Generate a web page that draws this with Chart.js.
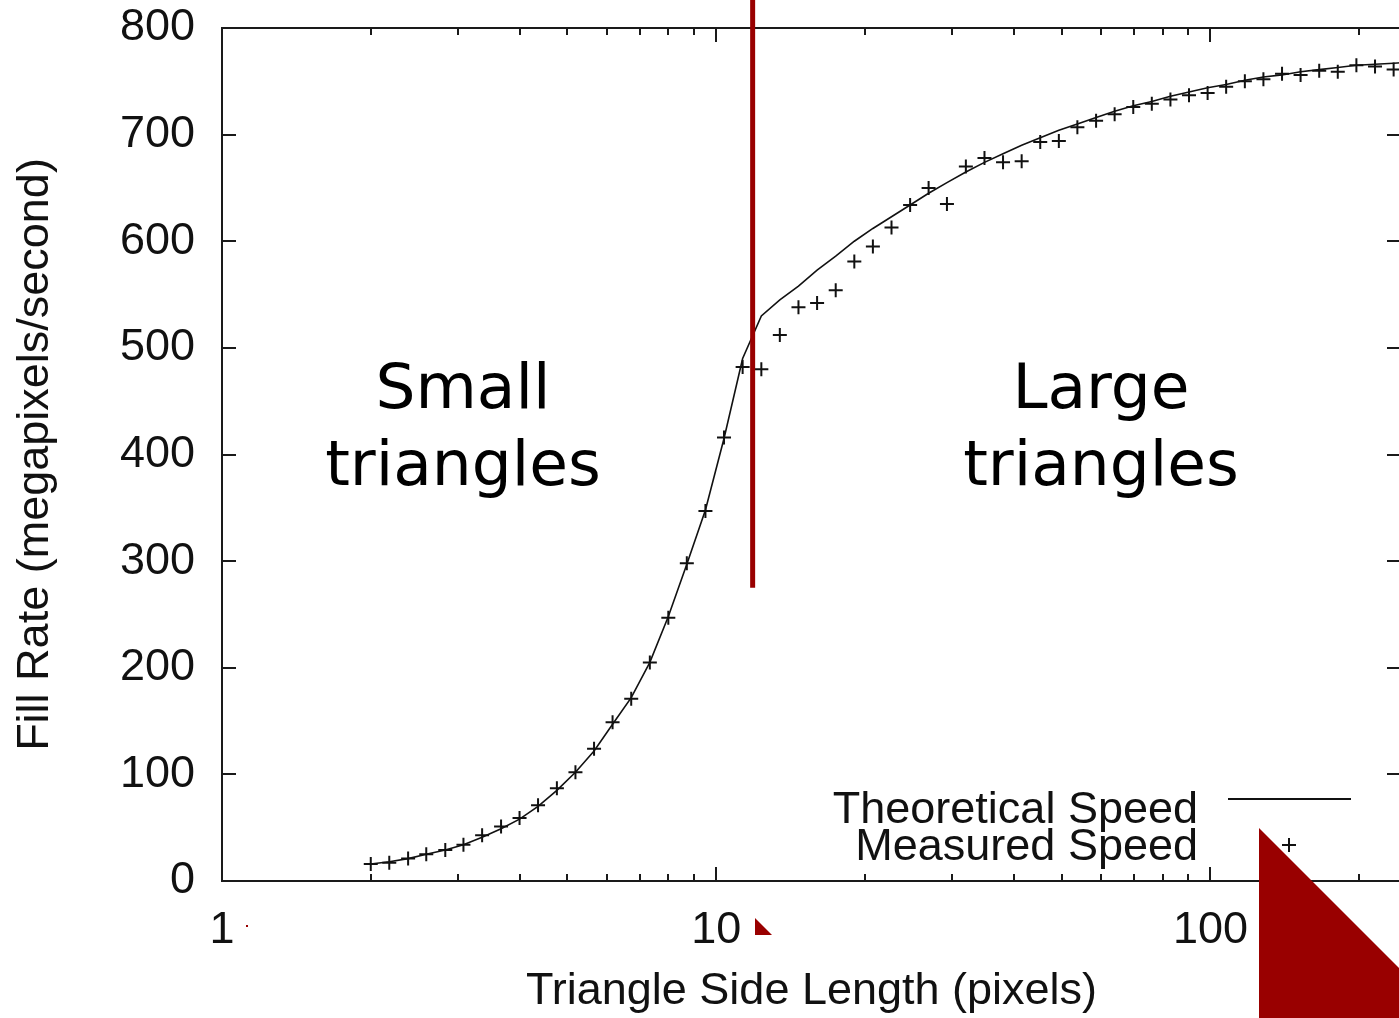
<!DOCTYPE html>
<html>
<head>
<meta charset="utf-8">
<title>Fill rate vs triangle size</title>
<script src="https://cdn.jsdelivr.net/npm/chart.js@4.4.1/dist/chart.umd.min.js"></script>
<style>
  html, body { margin: 0; padding: 0; background: #fff; overflow: hidden; }
  #wrap { position: relative; width: 1410px; height: 1018px; }
</style>
</head>
<body>
<div id="wrap"><canvas id="myChart" width="1410" height="1018"></canvas></div>
<script>
// triangle side length (pixels), log spaced
const sideLength = [2, 2.18, 2.38, 2.59, 2.83, 3.08, 3.36, 3.67, 4, 4.36,
  4.76, 5.19, 5.66, 6.17, 6.73, 7.34, 8, 8.72, 9.51, 10.37,
  11.31, 12.34, 13.45, 14.67, 16, 17.45, 19.03, 20.75, 22.63, 24.68,
  26.9, 29.3, 32, 34.9, 38.05, 41.5, 45.25, 49.35, 53.8, 58.7,
  64, 69.8, 76.1, 83, 90.5, 98.7, 107.6, 117.4, 128, 139.6,
  152.2, 166, 181, 197.4, 215.3, 234.8, 256];

// fill rate, megapixels/second
const theoretical = [16, 18, 21, 25, 29, 34, 41, 49, 58, 70,
  85, 102, 122, 147, 172, 205, 248, 297, 348, 415,
  490, 530, 545, 558, 573, 586, 600, 612, 623, 634,
  645, 655, 665, 674, 682, 690, 697, 704, 710, 716,
  722, 727, 731, 736, 740, 744, 747, 751, 754, 756,
  759, 761, 763, 765, 766, 767, 768];

const measured = [16, 17, 21, 25, 29, 34, 43, 51, 59, 71,
  87, 102, 124, 149, 171, 205, 247, 298, 347, 416,
  482, 480, 512, 538, 542, 554, 581, 595, 613, 634,
  650, 635, 670, 678, 674, 675, 693, 694, 707, 713,
  719, 726, 729, 733, 737, 739, 745, 750, 752, 757,
  756, 760, 759, 765, 764, 761, null];

const yTicks = [0, 100, 200, 300, 400, 500, 600, 700, 800];
const xLabels = [1, 10, 100];

// where small triangles end and large ones begin
const boundaryX = 11.85;
const boundaryBottomY = 275;

const gpFont = "'Liberation Sans', Arial, Helvetica, sans-serif";
const slideFont = "'DejaVu Sans', Verdana, sans-serif";
const ink = '#111';
const red = '#990000';

function isLogTick(v) {
  const e = Math.pow(10, Math.floor(Math.log10(v) + 1e-9));
  const m = v / e;
  return Math.abs(m - Math.round(m)) < 1e-6;
}

// gnuplot style frame with inward ticks on all four sides
const frameTicks = {
  id: 'frameTicks',
  afterDatasetsDraw(chart) {
    const { ctx, chartArea: a, scales: { x, y } } = chart;
    ctx.save();
    ctx.strokeStyle = '#1a1a1a';
    ctx.lineWidth = 2;
    ctx.strokeRect(a.left, a.top, a.right - a.left, a.bottom - a.top);
    ctx.beginPath();
    x.ticks.forEach(t => {
      if (!isLogTick(t.value)) return;
      const px = Math.round(x.getPixelForValue(t.value));
      if (px <= a.left + 1 || px >= a.right - 1) return;
      const major = Math.abs(Math.log10(t.value) - Math.round(Math.log10(t.value))) < 1e-6;
      const len = major ? 14 : 7;
      ctx.moveTo(px, a.bottom); ctx.lineTo(px, a.bottom - len);
      ctx.moveTo(px, a.top); ctx.lineTo(px, a.top + len);
    });
    y.ticks.forEach(t => {
      const py = Math.round(y.getPixelForValue(t.value));
      if (py <= a.top + 1 || py >= a.bottom - 1) return;
      ctx.moveTo(a.left, py); ctx.lineTo(a.left + 14, py);
      ctx.moveTo(a.right, py); ctx.lineTo(a.right - 14, py);
    });
    ctx.stroke();
    ctx.restore();
  }
};

// key in the lower right, text right aligned then sample
const gpKey = {
  id: 'gpKey',
  afterDraw(chart) {
    const { ctx } = chart;
    const ds = chart.data.datasets;
    ctx.save();
    ctx.font = '45px ' + gpFont;
    ctx.fillStyle = ink;
    ctx.textAlign = 'right';
    ctx.textBaseline = 'alphabetic';
    ctx.fillText(ds[0].label, 1198, 823);
    ctx.fillText(ds[1].label, 1198, 860);
    ctx.strokeStyle = ink;
    ctx.lineWidth = 2;
    ctx.beginPath();
    ctx.moveTo(1228, 799); ctx.lineTo(1351, 799);
    ctx.moveTo(1282, 845); ctx.lineTo(1296, 845);
    ctx.moveTo(1289, 838); ctx.lineTo(1289, 852);
    ctx.stroke();
    ctx.restore();
  }
};

// slide overlay: labels, boundary line, red corner shapes
const slideOverlay = {
  id: 'slideOverlay',
  afterDraw(chart) {
    const { ctx, scales: { x, y } } = chart;
    ctx.save();
    ctx.font = '63px ' + slideFont;
    ctx.fillStyle = '#000';
    ctx.textAlign = 'center';
    ctx.fillText('Small', 463, 408);
    ctx.fillText('triangles', 463, 485);
    ctx.fillText('Large', 1101, 408);
    ctx.fillText('triangles', 1101, 485);

    const bx = x.getPixelForValue(boundaryX);
    ctx.strokeStyle = red;
    ctx.lineWidth = 5;
    ctx.beginPath();
    ctx.moveTo(bx, 0);
    ctx.lineTo(bx, y.getPixelForValue(boundaryBottomY));
    ctx.stroke();

    ctx.fillStyle = red;
    ctx.beginPath();
    ctx.moveTo(1259, 828); ctx.lineTo(1399, 968); ctx.lineTo(1399, 1018); ctx.lineTo(1259, 1018);
    ctx.closePath();
    ctx.fill();
    ctx.beginPath();
    ctx.moveTo(755, 918); ctx.lineTo(772, 935); ctx.lineTo(755, 935);
    ctx.closePath();
    ctx.fill();
    ctx.fillRect(246, 925, 2, 2);
    ctx.restore();
  }
};

const ctx = document.getElementById('myChart');

new Chart(ctx, {
  type: 'scatter',
  data: {
    datasets: [{
      label: 'Theoretical Speed',
      data: sideLength.map((s, i) => ({ x: s, y: theoretical[i] })),
      showLine: true,
      borderColor: ink,
      borderWidth: 1.6,
      pointRadius: 0,
      tension: 0
    }, {
      label: 'Measured Speed',
      data: sideLength.map((s, i) => ({ x: s, y: measured[i] })),
      showLine: false,
      pointStyle: 'cross',
      pointRadius: 7,
      borderColor: ink,
      borderWidth: 2
    }]
  },
  options: {
    responsive: false,
    animation: false,
    devicePixelRatio: 1,
    events: [],
    layout: { padding: { top: 28, right: 0, left: 0, bottom: 0 } },
    plugins: {
      legend: { display: false },
      tooltip: { enabled: false }
    },
    scales: {
      x: {
        type: 'logarithmic',
        min: 1,
        max: 243,
        grid: { display: false, drawTicks: false },
        border: { display: false },
        ticks: {
          autoSkip: false,
          maxRotation: 0,
          padding: 23,
          color: ink,
          font: { family: gpFont, size: 45 },
          callback: v => xLabels.find(l => Math.abs(l - v) < 1e-6) !== undefined ? String(Math.round(v)) : ''
        },
        title: {
          display: true,
          text: 'Triangle Side Length (pixels)',
          color: ink,
          font: { family: gpFont, size: 45, lineHeight: 1 },
          padding: { top: 0, bottom: 4 }
        },
        afterFit: s => { s.height = 137; s.paddingLeft = 0; s.paddingRight = 0; }
      },
      y: {
        min: 0,
        max: 800,
        afterBuildTicks: s => { s.ticks = yTicks.map(v => ({ value: v })); },
        grid: { display: false, drawTicks: false },
        border: { display: false },
        ticks: {
          padding: 27,
          color: ink,
          font: { family: gpFont, size: 45 }
        },
        title: {
          display: true,
          text: 'Fill Rate (megapixels/second)',
          color: ink,
          font: { family: gpFont, size: 45, lineHeight: 1 },
          padding: { top: 13, bottom: 0 }
        },
        afterFit: s => { s.width = 222; s.paddingTop = 0; s.paddingBottom = 0; }
      }
    }
  },
  plugins: [frameTicks, gpKey, slideOverlay]
});
</script>
</body>
</html>
